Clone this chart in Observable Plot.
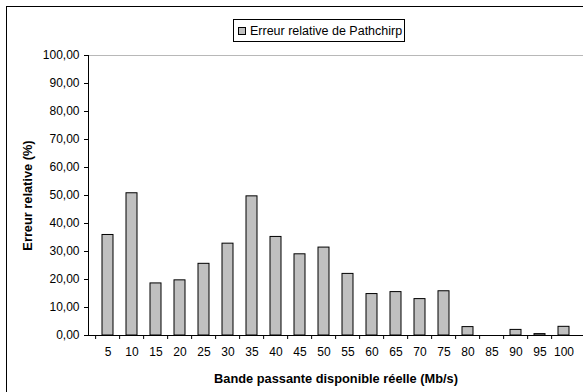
<!DOCTYPE html>
<html>
<head>
<meta charset="utf-8">
<script src="https://cdn.jsdelivr.net/npm/d3@7"></script>
<script src="https://cdn.jsdelivr.net/npm/@observablehq/plot@0.6"></script>
<style>
  html, body { margin: 0; padding: 0; background: #fff; }
  body { width: 583px; height: 392px; overflow: hidden; position: relative; font-family: "Liberation Sans", Arial, sans-serif; }
  #outer { position: absolute; left: 6px; top: 6px; width: 640px; height: 440px; border: 1px solid #000; box-sizing: border-box; pointer-events: none; }
  #legendRow { position: relative; height: 48px; }
  #legend { position: absolute; left: 233px; top: 19px; width: 172px; height: 23px; box-sizing: border-box; border: 1px solid #000; background: #fff; display: flex; align-items: center; padding-left: 4px; font-size: 12.5px; color: #000; white-space: nowrap; }
  #legend .sw { width: 6px; height: 6px; background: #c0c0c0; border: 1px solid #000; margin-right: 4px; flex: none; }
  #chart svg { display: block; }
</style>
</head>
<body>
<div id="outer"></div>
<div id="legendRow"><div id="legend"><span class="sw"></span><span id="legendText"></span></div></div>
<div id="chart"></div>
<script>
const categories = ["5","10","15","20","25","30","35","40","45","50","55","60","65","70","75","80","85","90","95","100"];
const errors = [35.9, 50.8, 18.6, 19.7, 25.6, 32.8, 49.7, 35.2, 29.0, 31.4, 22.0, 14.8, 15.5, 13.0, 15.8, 3.0, 0, 2.0, 0.5, 3.1];
const yTicks = [0, 10, 20, 30, 40, 50, 60, 70, 80, 90, 100];
const seriesName = "Erreur relative de Pathchirp";
const xTitle = "Bande passante disponible réelle (Mb/s)";
const yTitle = "Erreur relative (%)";

document.getElementById("legendText").textContent = seriesName;

const data = categories.map((c, i) => ({bw: c, err: errors[i]}));
const W = 583, ML = 88, MR = 0;
const step = (W - ML - MR) / categories.length;
const fmt = d => d.toFixed(2).replace(".", ",");

const chart = Plot.plot({
  width: W,
  height: 344,
  marginLeft: ML,
  marginRight: MR,
  marginTop: 7,
  marginBottom: 57,
  style: {fontFamily: "'Liberation Sans', Arial, sans-serif", fontSize: "12px", color: "#000", background: "#fff"},
  x: {domain: categories, paddingInner: 0.56, paddingOuter: 0.28},
  y: {domain: [0, 100]},
  marks: [
    Plot.ruleY([100], {stroke: "#b8b8b8"}),
    Plot.barY(data, {x: "bw", y: "err", fill: "#c0c0c0", stroke: "#000", strokeWidth: 1}),
    Plot.ruleY([0], {stroke: "#000"}),
    Plot.frame({anchor: "left", stroke: "#000"}),
    Plot.axisY({ticks: yTicks, tickSize: 4, tickPadding: 5, tickFormat: fmt, label: null, stroke: "#000", fill: "#000"}),
    Plot.axisX({tickSize: 4, tickFormat: () => "", dx: -step / 2, label: null, stroke: "#000"}),
    Plot.axisX({tickSize: 0, tickPadding: 12, label: null, fill: "#000"}),
    Plot.text([yTitle], {frameAnchor: "left", textAnchor: "middle", lineAnchor: "middle", rotate: -90, dx: -61, fontWeight: "bold", fontSize: 12.8, fill: "#000"}),
    Plot.text([xTitle], {frameAnchor: "bottom", textAnchor: "middle", lineAnchor: "middle", dy: 43, fontWeight: "bold", fontSize: 12.8, fill: "#000"})
  ]
});
document.getElementById("chart").appendChild(chart);
</script>
</body>
</html>
